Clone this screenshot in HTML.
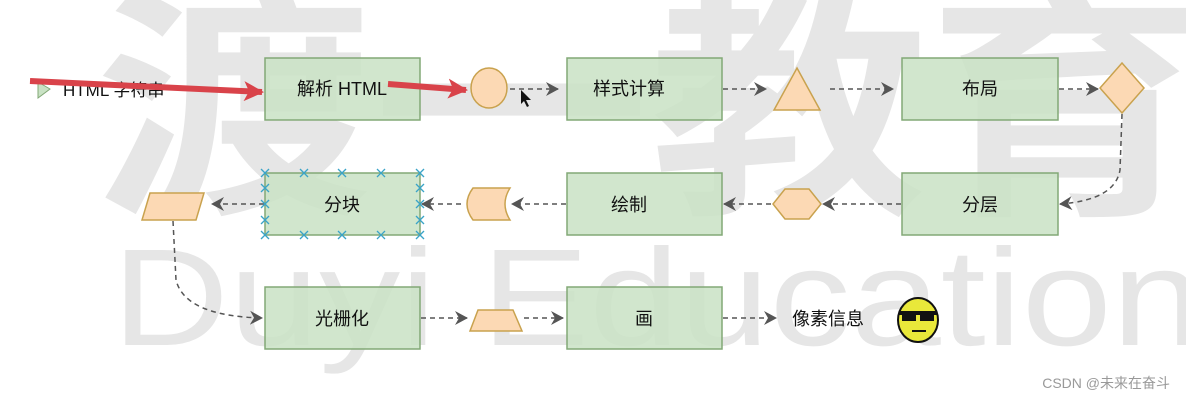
<!DOCTYPE html>
<html><head><meta charset="utf-8"><style>
html,body{margin:0;padding:0;background:#fff;width:1186px;height:401px;overflow:hidden}
svg{display:block}
text{font-family:"Liberation Sans","Noto Sans CJK SC",sans-serif}
</style></head><body>
<svg width="1186" height="401" viewBox="0 0 1186 401" xmlns="http://www.w3.org/2000/svg">
<defs>
<marker id="a" markerWidth="14" markerHeight="14" refX="12" refY="7" orient="auto" markerUnits="userSpaceOnUse"><path d="M0,0 L13,7 L0,14 L4,7 Z" fill="#555"/></marker>
<marker id="r" markerWidth="20" markerHeight="20" refX="18" refY="10" orient="auto" markerUnits="userSpaceOnUse"><path d="M0,0 L20,10 L0,20 L5,10 Z" fill="#d9434a"/></marker>
<g id="x"><line x1="-4" y1="-4" x2="4" y2="4"/><line x1="-4" y1="4" x2="4" y2="-4"/></g>
</defs>
<!-- watermark -->
<g fill="#e6e6e6">
<text x="95" y="195" font-size="245" font-weight="bold" textLength="1110" lengthAdjust="spacingAndGlyphs" font-family="'Noto Sans CJK SC',sans-serif">渡一教育</text>
<text x="112" y="345" font-size="138" textLength="1090" lengthAdjust="spacingAndGlyphs">Duyi Education</text>
</g>
<!-- boxes -->
<g fill="#c9e2c4" fill-opacity="0.85" stroke="#82a876" stroke-width="1.5">
<rect x="265" y="58" width="155" height="62"/>
<rect x="567" y="58" width="155" height="62"/>
<rect x="902" y="58" width="156" height="62"/>
<rect x="902" y="173" width="156" height="62"/>
<rect x="567" y="173" width="155" height="62"/>
<rect x="265" y="173" width="155" height="62"/>
<rect x="265" y="287" width="155" height="62"/>
<rect x="567" y="287" width="155" height="62"/>
</g>
<!-- shapes -->
<g fill="#fcd9b4" stroke="#c9a24e" stroke-width="1.5">
<ellipse cx="489" cy="88" rx="18" ry="20"/>
<path d="M797,68 L820,110 L774,110 Z"/>
<path d="M1122,63 L1144,88 L1122,113 L1100,88 Z"/>
<path d="M785,189 L809,189 L821,204 L809,219 L785,219 L773,204 Z"/>
<path d="M473,188 L510,188 Q500,204 510,220 L473,220 Q461,204 473,188 Z"/>
<path d="M150,193 L204,193 L196,220 L142,220 Z"/>
<path d="M478,310 L513,310 L522,331 L470,331 Z"/>
</g>
<!-- connectors -->
<g stroke="#555" stroke-width="1.5" stroke-dasharray="5,4" fill="none" marker-end="url(#a)">
<line x1="510" y1="89" x2="558" y2="89"/>
<line x1="723" y1="89" x2="766" y2="89"/>
<line x1="830" y1="89" x2="893" y2="89"/>
<line x1="1059" y1="89" x2="1098" y2="89"/>
<path d="M1122,114 L1120,170 Q1115,200 1060,204"/>
<line x1="901" y1="204" x2="823" y2="204"/>
<line x1="771" y1="204" x2="724" y2="204"/>
<line x1="566" y1="204" x2="512" y2="204"/>
<line x1="461" y1="204" x2="422" y2="204"/>
<line x1="264" y1="204" x2="212" y2="204"/>
<path d="M173,221 L176,280 Q185,316 262,318"/>
<line x1="421" y1="318" x2="467" y2="318"/>
<line x1="524" y1="318" x2="563" y2="318"/>
<line x1="723" y1="318" x2="776" y2="318"/>
</g>
<!-- start triangle -->
<path d="M38,82 L50,89 L38,98 Z" fill="#c9e2c4" stroke="#82a876"/>
<!-- labels -->
<g font-size="18" fill="#111" text-anchor="middle">
<text x="342" y="95">解析 HTML</text>
<text x="629" y="95">样式计算</text>
<text x="980" y="95">布局</text>
<text x="980" y="211">分层</text>
<text x="629" y="211">绘制</text>
<text x="342" y="211">分块</text>
<text x="342" y="325">光栅化</text>
<text x="644" y="325">画</text>
<text x="828" y="325">像素信息</text>
</g>
<text x="63" y="96" font-size="17" fill="#111">HTML  字符串</text>
<!-- selection markers on 分块 -->
<g stroke="#3aa4c8" stroke-width="1.3">
<use href="#x" x="265" y="173"/><use href="#x" x="304" y="173"/><use href="#x" x="342" y="173"/><use href="#x" x="381" y="173"/><use href="#x" x="420" y="173"/>
<use href="#x" x="265" y="235"/><use href="#x" x="304" y="235"/><use href="#x" x="342" y="235"/><use href="#x" x="381" y="235"/><use href="#x" x="420" y="235"/>
<use href="#x" x="265" y="188"/><use href="#x" x="265" y="204"/><use href="#x" x="265" y="220"/>
<use href="#x" x="420" y="188"/><use href="#x" x="420" y="204"/><use href="#x" x="420" y="220"/>
</g>
<!-- red arrows -->
<g stroke="#d9434a" stroke-width="6" fill="none" marker-end="url(#r)">
<line x1="30" y1="81" x2="262" y2="92"/>
<line x1="388" y1="84" x2="466" y2="90"/>
</g>
<!-- cursor -->
<path d="M521,90 L521,104 L524,101 L527,107 L529,106 L526,100 L531,100 Z" fill="#111"/>
<!-- smiley -->
<g>
<ellipse cx="918" cy="320" rx="20" ry="22" fill="#e9e83a" stroke="#111" stroke-width="2"/>
<rect x="899" y="311" width="38" height="4" fill="#111"/>
<rect x="902" y="313" width="14" height="8" fill="#111"/>
<rect x="920" y="313" width="14" height="8" fill="#111"/>
<line x1="912" y1="331" x2="926" y2="331" stroke="#111" stroke-width="2"/>
</g>
<text x="1170" y="388" font-size="14" fill="#999" text-anchor="end">CSDN @未来在奋斗</text>
</svg>
</body></html>
